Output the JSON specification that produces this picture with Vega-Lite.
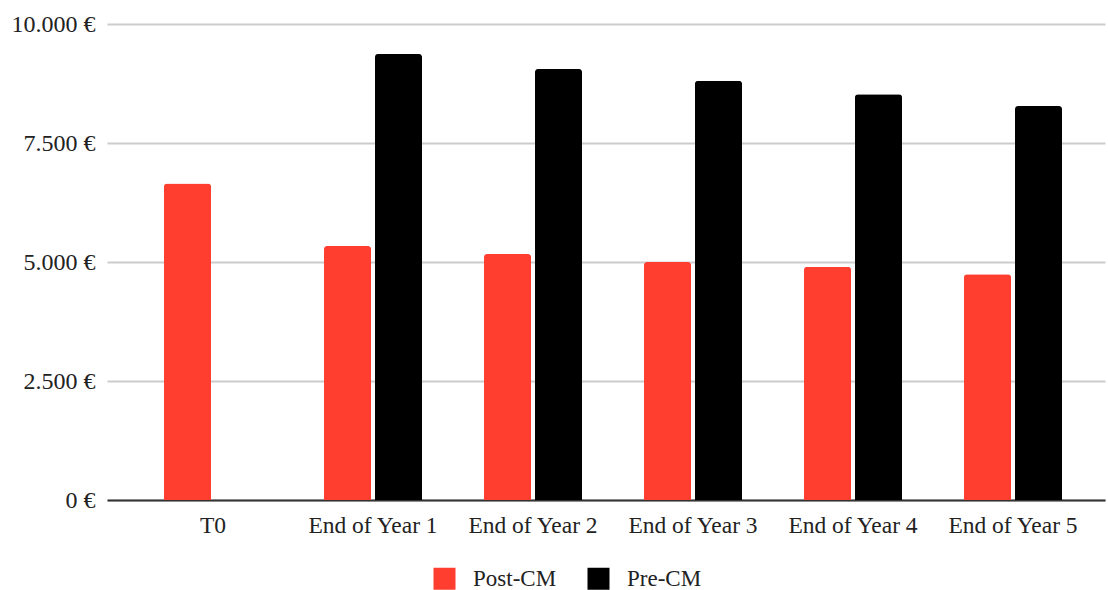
{
  "$schema": "https://vega.github.io/schema/vega-lite/v6.json",
  "autosize": {"type": "none"},
  "padding": {"left": 107, "top": 24, "right": 3, "bottom": 90},
  "width": 998,
  "height": 476,
  "background": "white",
  "data": {
    "values": [
      {"period": "T0", "series": "Post-CM", "value": 6650},
      {"period": "End of Year 1", "series": "Post-CM", "value": 5336},
      {"period": "End of Year 1", "series": "Pre-CM", "value": 9370},
      {"period": "End of Year 2", "series": "Post-CM", "value": 5168},
      {"period": "End of Year 2", "series": "Pre-CM", "value": 9055},
      {"period": "End of Year 3", "series": "Post-CM", "value": 5000},
      {"period": "End of Year 3", "series": "Pre-CM", "value": 8809},
      {"period": "End of Year 4", "series": "Post-CM", "value": 4901},
      {"period": "End of Year 4", "series": "Pre-CM", "value": 8523},
      {"period": "End of Year 5", "series": "Post-CM", "value": 4742},
      {"period": "End of Year 5", "series": "Pre-CM", "value": 8277}
    ]
  },
  "mark": {"type": "bar", "cornerRadiusTopLeft": 3, "cornerRadiusTopRight": 3},
  "encoding": {
    "x": {
      "field": "period",
      "type": "nominal",
      "sort": null,
      "scale": {"paddingInner": 0.3875, "paddingOuter": 0.3125, "align": 0.57},
      "axis": {
        "title": null,
        "labelAngle": 0,
        "ticks": false,
        "labelPadding": 13,
        "labelFont": "Liberation Serif",
        "labelFontSize": 23.5,
        "labelColor": "#222",
        "domainColor": "#333",
        "domainWidth": 2
      }
    },
    "xOffset": {
      "field": "series",
      "type": "nominal",
      "scale": {"paddingInner": 0.078, "paddingOuter": 0}
    },
    "y": {
      "field": "value",
      "type": "quantitative",
      "scale": {"domain": [0, 10000]},
      "axis": {
        "title": null,
        "values": [0, 2500, 5000, 7500, 10000],
        "labelExpr": "replace(format(datum.value, ',d'), ',', '.') + ' €'",
        "domain": false,
        "ticks": false,
        "labelPadding": 12,
        "labelFont": "Liberation Serif",
        "labelFontSize": 24,
        "labelColor": "#222",
        "gridColor": "#cccccc",
        "gridWidth": 2
      }
    },
    "color": {
      "field": "series",
      "type": "nominal",
      "scale": {"domain": ["Post-CM", "Pre-CM"], "range": ["#ff3e30", "#000000"]},
      "legend": {
        "title": null,
        "orient": "none",
        "direction": "horizontal",
        "legendX": 326,
        "legendY": 543,
        "symbolType": "square",
        "symbolSize": 484,
        "symbolStrokeWidth": 0,
        "symbolOpacity": 1,
        "labelFont": "Liberation Serif",
        "labelFontSize": 23,
        "labelColor": "#222",
        "labelOffset": 17,
        "columnPadding": 30,
        "padding": 0
      }
    }
  },
  "config": {"view": {"stroke": null}}
}
